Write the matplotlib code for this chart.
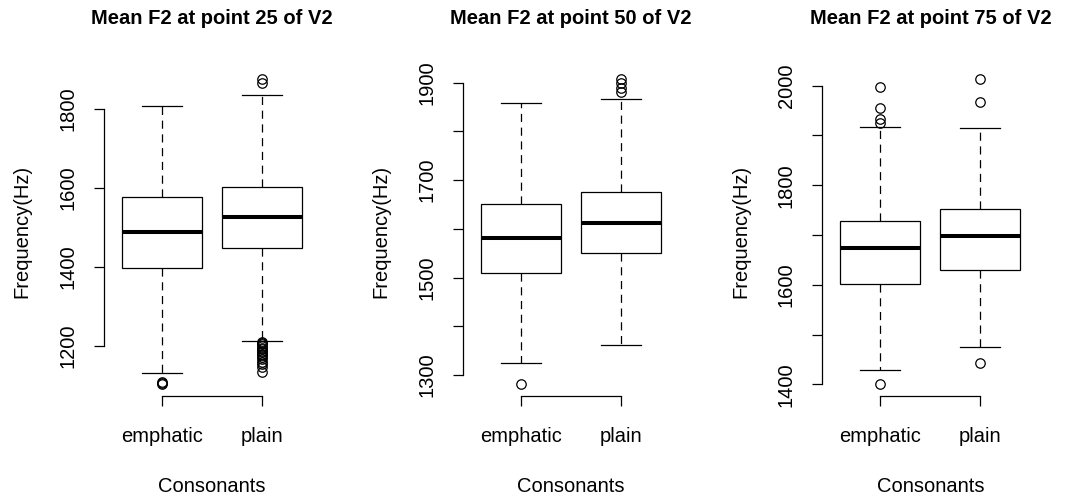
# Mean F2 boxplots (emphatic vs plain) at three points of V2
import numpy as np
import matplotlib
matplotlib.use('Agg')
import matplotlib.pyplot as plt

plt.rcParams['font.family'] = ['Liberation Sans', 'DejaVu Sans']
fs = 14.5

# data
groups = ['emphatic', 'plain']
titles = ['Mean F2 at point 25 of V2', 'Mean F2 at point 50 of V2', 'Mean F2 at point 75 of V2']

q1 = [[1397, 1447], [1510, 1550], [1601, 1630]]
med = [[1488, 1528], [1581, 1611], [1674, 1697]]
q3 = [[1578, 1603], [1650, 1676], [1728, 1753]]
whislo = [[1131, 1213], [1324, 1362], [1428, 1475]]
whishi = [[1809, 1836], [1859, 1866], [1916, 1915]]
fliers = [
    [[1104, 1107, 1109],
     [1867, 1876, 1210, 1207, 1204, 1200, 1196, 1192, 1188, 1184, 1180,
      1176, 1172, 1166, 1160, 1154, 1147, 1133]],
    [[1282],
     [1881, 1888, 1899, 1907]],
    [[1401, 1925, 1933, 1955, 1998],
     [1442, 1968, 2013]],
]
yticks = [[1200, 1400, 1600, 1800],
          [1300, 1400, 1500, 1600, 1700, 1800, 1900],
          [1400, 1500, 1600, 1700, 1800, 1900, 2000]]
ylabels_every = [1, 2, 2]

W, H = 1078, 498
fig = plt.figure(figsize=(W / 100, H / 100), dpi=100)

lw = 0.9
panel_w = W / 3
for i in range(3):
    left = (i * panel_w + 103.7) / W
    ax = fig.add_axes([left, (H - 396) / H, 216 / W, 329 / H])

    stats = []
    for j in range(2):
        stats.append(dict(med=med[i][j], q1=q1[i][j], q3=q3[i][j],
                          whislo=whislo[i][j], whishi=whishi[i][j],
                          fliers=fliers[i][j], label=groups[j]))
    ax.bxp(stats, positions=[1, 2], widths=0.8, capwidths=0.4,
           patch_artist=True,
           boxprops=dict(facecolor='white', edgecolor='black', linewidth=lw),
           medianprops=dict(color='black', linewidth=2.9, solid_capstyle='butt'),
           whiskerprops=dict(color='black', linewidth=lw, linestyle=(0, (6.5, 4.5))),
           capprops=dict(color='black', linewidth=lw),
           flierprops=dict(marker='o', markerfacecolor='none', markeredgecolor='black',
                           markersize=6.8, markeredgewidth=lw, linestyle='none'))

    # R-like 4% axis extension
    allv = [v for j in range(2) for v in [whislo[i][j], whishi[i][j]] + list(fliers[i][j])]
    lo, hi = min(allv), max(allv)
    pad = 0.04 * (hi - lo)
    ax.set_ylim(lo - pad, hi + pad)
    ax.set_xlim(0.5 - 0.08, 2.5 + 0.08)

    for s in ['top', 'right']:
        ax.spines[s].set_visible(False)
    ax.spines['left'].set_bounds(yticks[i][0], yticks[i][-1])
    ax.spines['bottom'].set_bounds(1, 2)
    ax.spines['left'].set_linewidth(lw)
    ax.spines['bottom'].set_linewidth(lw)

    ax.set_yticks(yticks[i])
    ax.set_yticklabels([str(t) if k % ylabels_every[i] == 0 else '' for k, t in enumerate(yticks[i])],
                       rotation=90, va='center', fontsize=fs)
    ax.set_xticks([1, 2])
    ax.set_xticklabels(groups, fontsize=fs)
    ax.tick_params(axis='both', length=7, width=lw, direction='out')
    ax.tick_params(axis='y', pad=12)
    ax.tick_params(axis='x', pad=15)

    ax.set_title(titles[i], fontsize=fs, fontweight='bold', pad=31)
    ax.set_xlabel('Consonants', fontsize=fs, va='center')
    ax.xaxis.set_label_coords(0.5, (396 - 486) / 329)
    ax.set_ylabel('Frequency(Hz)', fontsize=fs, va='center')
    ax.yaxis.set_label_coords((22 - 103.7) / 216, 0.5)

plt.savefig('out.png', dpi=100)
